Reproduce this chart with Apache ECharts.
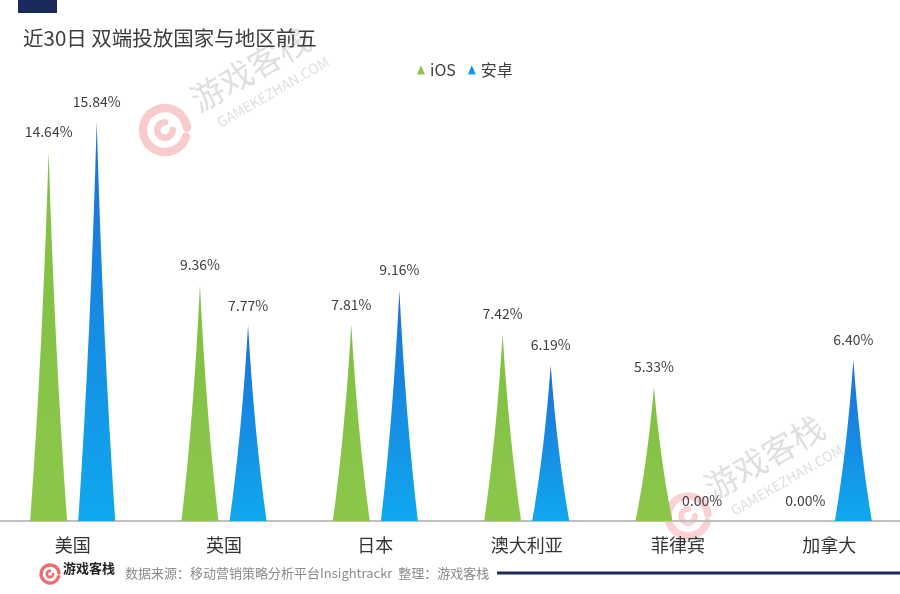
<!DOCTYPE html>
<html><head><meta charset="utf-8">
<script src="https://cdn.jsdelivr.net/npm/echarts@6/dist/echarts.min.js"></script>
<style>html,body{margin:0;padding:0;background:#fff;overflow:hidden}#c{position:absolute;left:-3px;top:0;width:908px;height:594px}</style>
</head><body><div id="c"></div>
<script>
const categories = ['美国','英国','日本','澳大利亚','菲律宾','加拿大'];
const iosValues = [14.64, 9.36, 7.81, 7.42, 5.33, 0.00];
const androidValues = [15.84, 7.77, 9.16, 6.19, 0.00, 6.40];
const seriesNames = ['iOS','安卓'];

const FONT = '"Noto Sans CJK SC","Noto Sans",sans-serif';
const spike = 'path://M0,100 Q33,55 50,0 Q67,55 100,100 Z';
const OX = 3; // page offset of the chart container
const chart = echarts.init(document.getElementById('c'));

function watermark(x, y) {
  return {
    type: 'group', x: x + OX, y: y, rotation: Math.PI / 6, silent: true,
    children: [
      { type: 'text', style: { text: '游戏客栈', x: 0, y: -15, align: 'center', verticalAlign: 'middle',
        font: '33px ' + FONT, fill: 'rgba(185,185,185,0.45)' } },
      { type: 'text', style: { text: 'GAMEKEZHAN.COM', x: 8, y: 16, align: 'center', verticalAlign: 'middle',
        font: '14px ' + FONT, fill: 'rgba(185,185,185,0.45)' } }
    ]
  };
}
function spiral(x, y, r, op) {
  return { type: 'group', x: x + OX, y: y, silent: true, children: [
    { type: 'arc', shape: { cx: 0, cy: 0, r: r, startAngle: 0.3, endAngle: Math.PI * 2 - 0.1 },
      style: { stroke: 'rgba(235,110,110,' + op + ')', lineWidth: r * 0.38, fill: null, lineCap: 'round' } },
    { type: 'arc', shape: { cx: 0, cy: 0, r: r * 0.35, startAngle: 0, endAngle: Math.PI * 1.5 },
      style: { stroke: 'rgba(235,110,110,' + op + ')', lineWidth: r * 0.3, fill: null, lineCap: 'round' } }
  ]};
}

chart.setOption({
  animation: false,
  title: { text: '近30日 双端投放国家与地区前五', left: 18 + OX, top: 23,
    textStyle: { fontFamily: FONT, fontSize: 20.5, fontWeight: 'normal', color: '#3d3d3d' } },
  legend: { data: seriesNames, left: 412 + OX, top: 57, icon: 'triangle', itemWidth: 8, itemHeight: 9, itemGap: 12,
    textStyle: { fontFamily: FONT, fontSize: 16, color: '#404040' } },
  grid: { left: 0, right: 0, top: 67.4, bottom: 73 },
  xAxis: { type: 'category', data: categories,
    axisLine: { lineStyle: { color: '#bfbfbf', width: 2 } }, axisTick: { show: false },
    axisLabel: { margin: 15, fontFamily: FONT, fontSize: 18, color: '#333' } },
  yAxis: { type: 'value', min: 0, max: 18, show: false, splitLine: { show: false } },
  series: [
    { name: seriesNames[0], type: 'pictorialBar', data: iosValues, symbol: spike, barWidth: 37, barGap: '30%',
      itemStyle: { color: new echarts.graphic.LinearGradient(0,0,0,1,[{offset:0,color:'#7fc043'},{offset:1,color:'#8cc74a'}]) },
      label: { show: true, position: 'top', distance: 13, formatter: p => p.value.toFixed(2) + '%',
        fontFamily: FONT, fontSize: 14, color: '#404040' } },
    { name: seriesNames[1], type: 'pictorialBar', data: androidValues, symbol: spike, barWidth: 37, barGap: '30%',
      itemStyle: { color: new echarts.graphic.LinearGradient(0,0,0,1,[{offset:0,color:'#1e6fd6'},{offset:1,color:'#0fa8ee'}]) },
      label: { show: true, position: 'top', distance: 13, formatter: p => p.value.toFixed(2) + '%',
        fontFamily: FONT, fontSize: 14, color: '#404040' } }
  ],
  graphic: [
    { type: 'rect', shape: { x: 18 + OX, y: 0, width: 39, height: 13 }, style: { fill: '#1b2a5c' } },
    spiral(165, 130, 22, 0.35),
    watermark(258, 82),
    spiral(688, 516, 20, 0.3),
    watermark(772, 470),
    spiral(50, 574, 9, 1),
    { type: 'text', style: { text: '游戏客栈', x: 63 + OX, y: 568, verticalAlign: 'middle', font: 'bold 13px ' + FONT, fill: '#222' } },
    { type: 'text', style: { text: '数据来源：移动营销策略分析平台Insightrackr  整理：游戏客栈', x: 125 + OX, y: 573,
      verticalAlign: 'middle', font: '13px ' + FONT, fill: '#8a8a8a' } },
    { type: 'rect', shape: { x: 497 + OX, y: 571.5, width: 408, height: 3 }, style: { fill: '#1b2a5c' } }
  ]
});
</script></body></html>
